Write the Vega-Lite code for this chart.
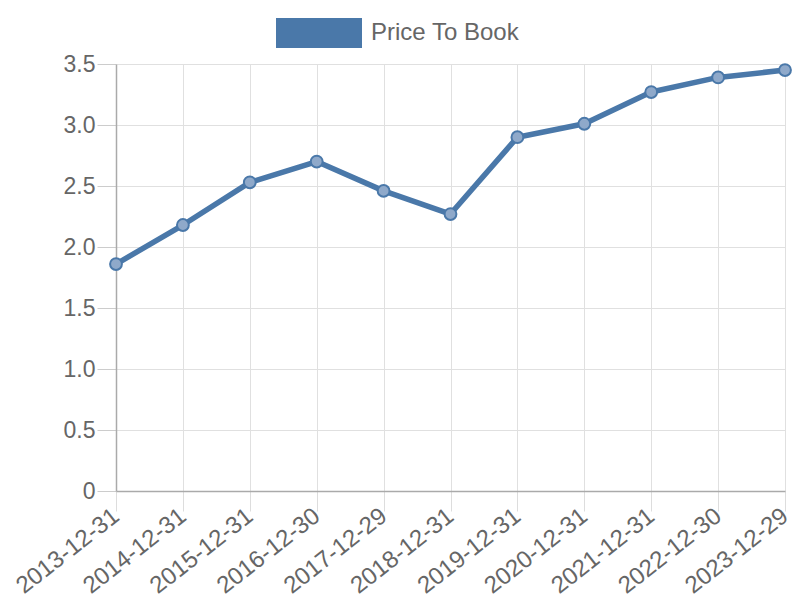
{
  "$schema": "https://vega.github.io/schema/vega-lite/v6.json",
  "autosize": {"type": "none"},
  "width": 669,
  "height": 427,
  "padding": {"left": 116, "top": 64, "right": 15, "bottom": 109},
  "background": "white",
  "config": {
    "view": {"stroke": null},
    "font": "Liberation Sans",
    "axis": {
      "labelFont": "Liberation Sans",
      "labelFontSize": 23,
      "labelColor": "#666666",
      "gridColor": "#e0e0e0",
      "gridWidth": 1,
      "domainColor": "#aaaaaa",
      "domainWidth": 1.5,
      "tickColor": "#cccccc",
      "tickSize": 19,
      "labelPadding": 2,
      "title": null
    },
    "legend": {"labelFont": "Liberation Sans"}
  },
  "data": {
    "values": [
      {"date": "2013-12-31", "value": 1.86, "series": "Price To Book"},
      {"date": "2014-12-31", "value": 2.18, "series": "Price To Book"},
      {"date": "2015-12-31", "value": 2.53, "series": "Price To Book"},
      {"date": "2016-12-30", "value": 2.70, "series": "Price To Book"},
      {"date": "2017-12-29", "value": 2.46, "series": "Price To Book"},
      {"date": "2018-12-31", "value": 2.27, "series": "Price To Book"},
      {"date": "2019-12-31", "value": 2.90, "series": "Price To Book"},
      {"date": "2020-12-31", "value": 3.01, "series": "Price To Book"},
      {"date": "2021-12-31", "value": 3.27, "series": "Price To Book"},
      {"date": "2022-12-30", "value": 3.39, "series": "Price To Book"},
      {"date": "2023-12-29", "value": 3.45, "series": "Price To Book"}
    ]
  },
  "encoding": {
    "x": {
      "field": "date",
      "type": "ordinal",
      "scale": {"type": "point", "padding": 0},
      "axis": {
        "labelAngle": -38,
        "labelAlign": "right",
        "labelBaseline": "middle",
        "labelFontSize": 24,
        "grid": true,
        "tickColor": "#dddddd",
        "tickSize": 20
      }
    },
    "y": {
      "field": "value",
      "type": "quantitative",
      "scale": {"domain": [0, 3.5], "nice": false},
      "axis": {
        "values": [0, 0.5, 1, 1.5, 2, 2.5, 3, 3.5],
        "labelExpr": "datum.value == 0 ? '0' : format(datum.value, '.1f')",
        "grid": true
      }
    }
  },
  "layer": [
    {
      "mark": {"type": "line", "strokeWidth": 5.5, "strokeJoin": "round"},
      "encoding": {
        "color": {
          "field": "series",
          "type": "nominal",
          "scale": {"range": ["#4a78a9"]},
          "legend": {
            "title": null,
            "orient": "none",
            "legendX": 160,
            "legendY": -74,
            "symbolType": "M-1,-0.35H1V0.35H-1Z",
            "symbolSize": 7396,
            "symbolStrokeWidth": 0,
            "labelFontSize": 24,
            "labelColor": "#666666",
            "labelOffset": 9,
            "encode": {
              "symbols": {
                "update": {
                  "fill": {"value": "#4a78a9"},
                  "stroke": {"value": "#4a78a9"},
                  "opacity": {"value": 1}
                }
              }
            }
          }
        }
      }
    },
    {
      "mark": {
        "type": "point",
        "shape": "circle",
        "size": 140,
        "filled": true,
        "fill": "#8fa9ca",
        "fillOpacity": 1,
        "stroke": "#4a78a9",
        "strokeWidth": 2,
        "opacity": 1
      }
    }
  ]
}
